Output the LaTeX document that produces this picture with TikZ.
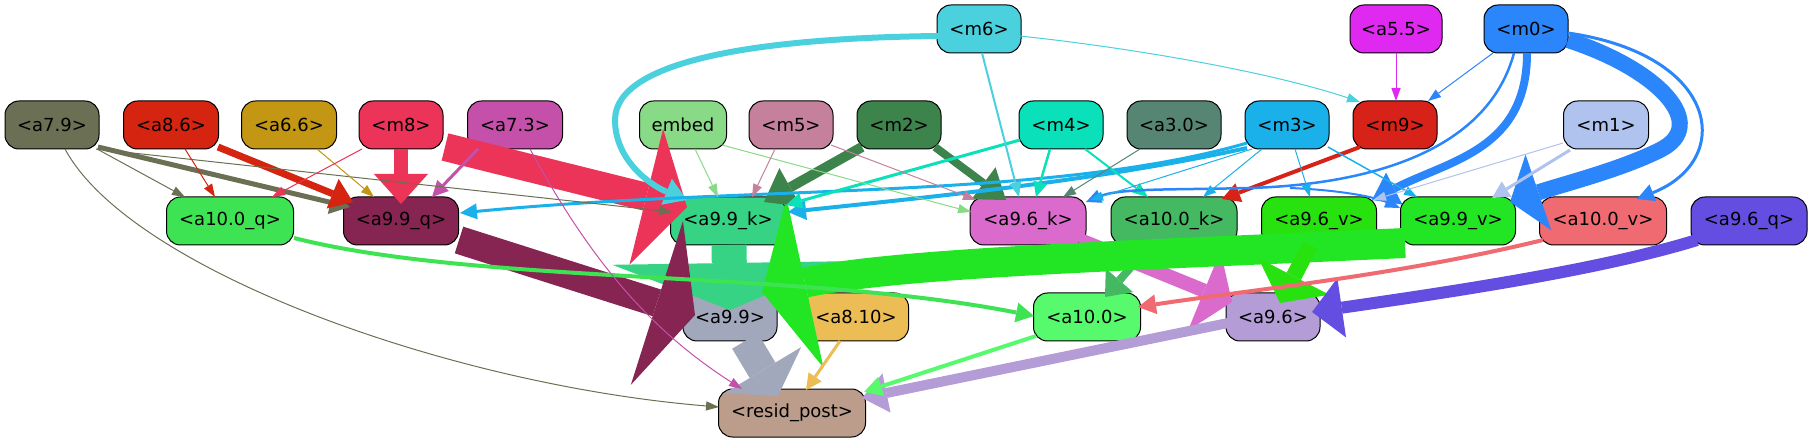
\documentclass[tikz,border=0pt]{standalone}
\usepackage{fontspec}
\setmainfont{DejaVu Sans}
\usetikzlibrary{arrows.meta,calc}
\definecolor{cm6}{HTML}{4BD0DE}
\definecolor{ca55}{HTML}{E029F0}
\definecolor{cm0}{HTML}{2A86FA}
\definecolor{ca79}{HTML}{6B6F53}
\definecolor{ca86}{HTML}{D52510}
\definecolor{ca66}{HTML}{C39614}
\definecolor{cm8}{HTML}{EC3358}
\definecolor{ca73}{HTML}{C550AA}
\definecolor{cemb}{HTML}{88DA86}
\definecolor{cm5}{HTML}{C5809B}
\definecolor{cm2}{HTML}{3C834C}
\definecolor{cm4}{HTML}{0AE0B9}
\definecolor{ca30}{HTML}{568574}
\definecolor{cm3}{HTML}{1AB1EA}
\definecolor{cm9}{HTML}{D62218}
\definecolor{cm1}{HTML}{AFC3EE}
\definecolor{caXq}{HTML}{3EE353}
\definecolor{ca99q}{HTML}{862551}
\definecolor{ca99k}{HTML}{35D383}
\definecolor{ca96k}{HTML}{DA6ACB}
\definecolor{caXk}{HTML}{45B862}
\definecolor{ca96v}{HTML}{27E20E}
\definecolor{ca99v}{HTML}{22E624}
\definecolor{caXv}{HTML}{F06A72}
\definecolor{ca96q}{HTML}{644EE2}
\definecolor{ca99}{HTML}{A2A8BC}
\definecolor{ca810}{HTML}{EDBD55}
\definecolor{caX}{HTML}{57FA6D}
\definecolor{ca96}{HTML}{B49DD6}
\definecolor{cres}{HTML}{BC9D8C}
\tikzset{
  nd/.style={draw=black, line width=1pt, rounded corners=14pt, minimum height=48pt, inner sep=0pt, font=\fontsize{18}{21}\selectfont},
  ar/.style n args={4}{draw=#1, line width=#2pt, -{Triangle[length=#4pt,width=#3pt,line width=0pt]}},
  thin/.style={draw=#1, line width=1pt, -{Triangle[length=13pt,width=9.4pt,line width=0pt]}}
}
\begin{document}
\begin{tikzpicture}[x=1pt,y=-1pt]
\useasboundingbox (0,0) rectangle (1812,443);
% nodes
\node[nd, fill=cm6, minimum width=84pt] (m6) at (979,29) {<m6>};
\node[nd, fill=ca55, minimum width=92pt] (a55) at (1396,29) {<a5.5>};
\node[nd, fill=cm0, minimum width=84pt] (m0) at (1526,29) {<m0>};
\node[nd, fill=ca79, minimum width=94pt] (a79) at (52,125) {<a7.9>};
\node[nd, fill=ca86, minimum width=95pt] (a86) at (171,125) {<a8.6>};
\node[nd, fill=ca66, minimum width=95pt] (a66) at (289,125) {<a6.6>};
\node[nd, fill=cm8, minimum width=84pt] (m8) at (401,125) {<m8>};
\node[nd, fill=ca73, minimum width=95pt] (a73) at (515,125) {<a7.3>};
\node[nd, fill=cemb, minimum width=87pt] (embed) at (683,125) {embed};
\node[nd, fill=cm5, minimum width=84pt] (m5) at (791,125) {<m5>};
\node[nd, fill=cm2, minimum width=84pt] (m2) at (899,125) {<m2>};
\node[nd, fill=cm4, minimum width=84pt] (m4) at (1061,125) {<m4>};
\node[nd, fill=ca30, minimum width=94pt] (a30) at (1174,125) {<a3.0>};
\node[nd, fill=cm3, minimum width=84pt] (m3) at (1287,125) {<m3>};
\node[nd, fill=cm9, minimum width=84pt] (m9) at (1395,125) {<m9>};
\node[nd, fill=cm1, minimum width=85pt] (m1) at (1606,125) {<m1>};
\node[nd, fill=caXq, minimum width=127pt] (a100q) at (230,221) {<a10.0\_q>};
\node[nd, fill=ca99q, minimum width=115pt] (a99q) at (401,221) {<a9.9\_q>};
\node[nd, fill=ca99k, minimum width=115pt] (a99k) at (728,221) {<a9.9\_k>};
\node[nd, fill=ca96k, minimum width=116pt] (a96k) at (1028,221) {<a9.6\_k>};
\node[nd, fill=caXk, minimum width=126pt] (a100k) at (1174,221) {<a10.0\_k>};
\node[nd, fill=ca96v, minimum width=115pt] (a96v) at (1319,221) {<a9.6\_v>};
\node[nd, fill=ca99v, minimum width=115pt] (a99v) at (1458,221) {<a9.9\_v>};
\node[nd, fill=caXv, minimum width=127pt] (a100v) at (1603,221) {<a10.0\_v>};
\node[nd, fill=ca96q, minimum width=116pt] (a96q) at (1749,221) {<a9.6\_q>};
\node[nd, fill=ca99, minimum width=94pt] (a99) at (730,317) {<a9.9>};
\node[nd, fill=ca810, minimum width=105pt] (a810) at (856,317) {<a8.10>};
\node[nd, fill=caX, minimum width=107pt] (a100) at (1087,317) {<a10.0>};
\node[nd, fill=ca96, minimum width=94pt] (a96) at (1273,317) {<a9.6>};
\node[nd, fill=cres, minimum width=147pt] (resid) at (792,413) {<resid\_post>};
% heavy edges
\draw[ar={ca99k}{35}{234}{47}] ($(a99k)+(1,24)$) -- ($(a99)+(0,-7)$);
\draw[ar={ca99q}{28}{172}{40}] ($(a99q)+(58,19)$) -- ($(a99)+(-35,-2)$);
\draw[ar={cm8}{28}{140}{42}] ($(m8)+(44,22)$) -- ($(a99k)+(-41,-14)$);
\draw[ar={ca96k}{14}{86}{30}] ($(a96k)+(52,19)$) -- ($(a96)+(-41,-15)$);
\draw[ar={caXk}{8}{36}{22}] ($(a100k)+(-24,24)$) -- ($(a100)+(18,-20)$);
\draw[ar={ca99}{30}{90}{30}] ($(a99)+(15,24)$) -- ($(resid)+(-14,-17)$);
\draw[ar={ca99v}{30}{174}{44}] ($(a99v)+(-53,22)$) .. controls (1150,255) and (900,262) .. ($(a99)+(32,-25)$);
\draw[ar={ca96v}{16}{80}{30}] ($(a96v)+(-9,24)$) -- ($(a96)+(7,-14)$);
\draw[ar={ca96}{10}{40}{25}] ($(a96)+(-45,6)$) -- ($(resid)+(70,-15)$);
\draw[ar={ca96q}{12}{60}{30}] ($(a96q)+(-52,19)$) .. controls (1600,270) and (1450,292) .. ($(a96)+(39,-5)$);
\draw[ar={cm0}{16}{80}{30}] ($(m0)+(42,11)$) .. controls (1660,70) and (1710,125) .. (1660,150) .. controls (1620,170) and (1560,185) .. ($(a99v)+(52,-19)$);
\draw[ar={cm8}{14}{54}{30}] ($(m8)+(0,24)$) -- ($(a99q)+(0,-17)$);
\draw[ar={cm2}{10}{44}{30}] ($(m2)+(-37,22)$) -- ($(a99k)+(36,-19)$);
\draw[ar={cm2}{8}{40}{28}] ($(m2)+(36,22)$) -- ($(a96k)+(-22,-21)$);
\draw[ar={cm0}{8}{36}{25}] ($(m0)+(1,24)$) .. controls (1527,150) and (1450,160) .. ($(a96v)+(53,-21)$);
\draw[ar={cm6}{6}{28}{22}] ($(m6)+(-41,7)$) .. controls (760,38) and (615,60) .. (615,120) .. controls (615,160) and (650,185) .. ($(a99k)+(-41,-21)$);
% medium edges
\draw[ar={ca79}{5}{24}{20}] ($(a79)+(46,22)$) -- ($(a99q)+(-51,-14)$);
\draw[ar={ca86}{7}{32}{22}] ($(a86)+(47,22)$) -- ($(a99q)+(-48,-19)$);
\draw[ar={ca73}{3}{16}{16}] ($(a73)+(-37,24)$) -- ($(a99q)+(31,-24)$);
\draw[ar={cm3}{3}{16}{17}] ($(m3)+(-40,18)$) .. controls (1050,200) and (750,185) .. ($(a99q)+(59,-8)$);
\draw[ar={cm3}{4}{20}{18}] ($(m3)+(-40,23)$) .. controls (1100,180) and (950,195) .. ($(a99k)+(60,-9)$);
\draw[ar={cm4}{3}{16}{16}] ($(m4)+(-41,15)$) -- ($(a99k)+(58,-16)$);
\draw[ar={cm4}{2.5}{14}{15}] ($(m4)+(-11,24)$) -- ($(a96k)+(8,-24)$);
\draw[ar={cm4}{2}{12}{15}] ($(m4)+(24,24)$) -- ($(a100k)+(-26,-24)$);
\draw[ar={cm6}{2}{12}{15}] ($(m6)+(3,24)$) -- ($(a96k)+(-9,-24)$);
\draw[ar={cm9}{4}{20}{18}] ($(m9)+(-35,22)$) -- ($(a100k)+(48,-22)$);
\draw[ar={cm0}{2.5}{14}{15}] ($(m0)+(-12,24)$) .. controls (1485,160) and (1350,185) .. (1250,188) .. controls (1170,190) and (1120,188) .. ($(a96k)+(58,-19)$);
\coordinate (j) at (1290,188);
\draw[ar={cm0}{2}{12}{15}] (j) .. controls (1340,190) and (1375,197) .. ($(a99v)+(-58,-13)$);
\draw[ar={cm0}{3}{18}{17}] ($(m0)+(42,4)$) .. controls (1720,55) and (1735,160) .. ($(a100v)+(34,-22)$);
\draw[ar={cm1}{3}{18}{17}] ($(m1)+(-36,25)$) -- ($(a99v)+(34,-23)$);
\draw[ar={caXq}{4}{20}{18}] ($(a100q)+(64,17)$) .. controls (480,285) and (800,270) .. ($(a100)+(-53,-1)$);
\draw[ar={caXv}{4}{20}{18}] ($(a100v)+(-60,19)$) .. controls (1400,275) and (1250,290) .. ($(a100)+(51,-10)$);
\draw[ar={ca810}{3}{16}{16}] ($(a810)+(-16,24)$) -- ($(resid)+(14,-23)$);
\draw[ar={caX}{4}{20}{18}] ($(a100)+(-51,19)$) -- ($(resid)+(72,-21)$);
% thin edges
\draw[thin=ca79] ($(a79)+(45,24)$) -- ($(a100q)+(-45,-24)$);
\draw[thin=ca79] ($(a79)+(44,24)$) -- ($(a99k)+(-56,-9)$);
\draw[thin=ca79] ($(a79)+(13,24)$) .. controls (130,270) and (450,385) .. ($(resid)+(-73,-6)$);
\draw[thin=ca86] ($(a86)+(14,24)$) -- ($(a100q)+(-15,-24)$);
\draw[thin=ca66] ($(a66)+(28,24)$) -- ($(a99q)+(-27,-24)$);
\draw[thin=cm8] ($(m8)+(-39,24)$) -- ($(a100q)+(42,-24)$);
\draw[thin=ca73] ($(a73)+(15,24)$) .. controls (590,260) and (650,330) .. ($(resid)+(-50,-24)$);
\draw[thin=cemb] ($(embed)+(12,24)$) -- ($(a99k)+(-10,-24)$);
\draw[thin=cemb] ($(embed)+(39,20)$) -- ($(a96k)+(-57,-9)$);
\draw[thin=cm5] ($(m5)+(-16,24)$) -- ($(a99k)+(24,-24)$);
\draw[thin=cm5] ($(m5)+(40,20)$) -- ($(a96k)+(-52,-21)$);
\draw[thin=ca30] ($(a30)+(-34,24)$) -- ($(a96k)+(35,-24)$);
\draw[thin=cm3] ($(m3)+(-35,24)$) -- ($(a96k)+(62,-21)$);
\draw[thin=cm3] ($(m3)+(-25,24)$) -- ($(a100k)+(29,-24)$);
\draw[thin=cm3] ($(m3)+(8,24)$) -- ($(a96v)+(-9,-24)$);
\draw[thin=cm3, line width=1.5pt] ($(m3)+(41,22)$) -- ($(a99v)+(-41,-24)$);
\draw[thin=cm6] ($(m6)+(41,7)$) .. controls (1150,50) and (1280,75) .. ($(m9)+(-35,-23)$);
\draw[thin=ca55] ($(a55)+(0,24)$) -- ($(m9)+(1,-24)$);
\draw[thin=cm0] ($(m0)+(-33,24)$) -- ($(m9)+(33,-24)$);
\draw[thin=cm1] ($(m1)+(-43,18)$) -- ($(a96v)+(54,-21)$);
\end{tikzpicture}
\end{document}
